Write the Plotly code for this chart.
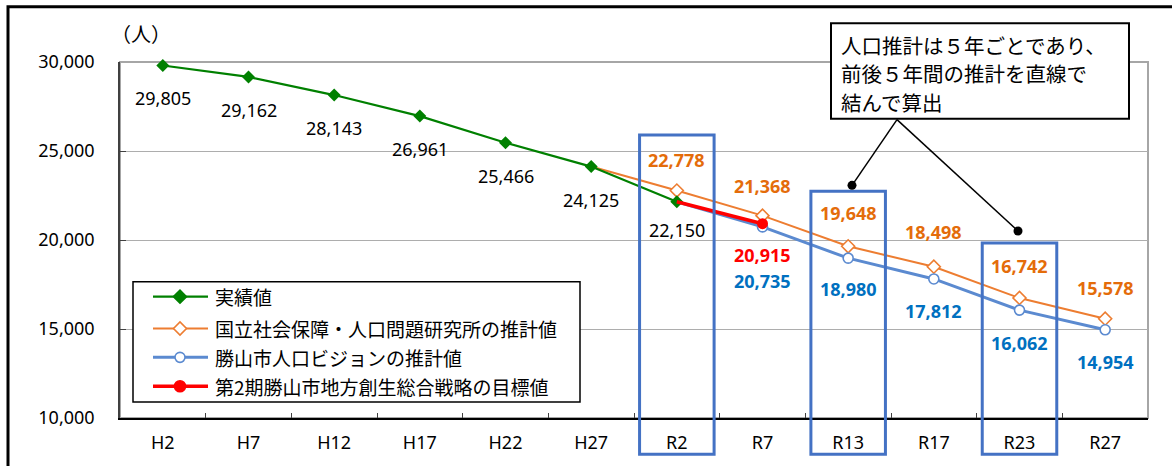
import plotly.graph_objects as go

# ---- data ----------------------------------------------------------------
categories = ["H2", "H7", "H12", "H17", "H22", "H27",
              "R2", "R7", "R13", "R17", "R23", "R27"]

actual_years = ["H2", "H7", "H12", "H17", "H22", "H27", "R2"]
actual_pop = [29805, 29162, 28143, 26961, 25466, 24125, 22150]

ipss_years = ["H27", "R2", "R7", "R13", "R17", "R23", "R27"]
ipss_pop = [24125, 22778, 21368, 19648, 18498, 16742, 15578]

vision_years = ["R2", "R7", "R13", "R17", "R23", "R27"]
vision_pop = [22150, 20735, 18980, 17812, 16062, 14954]

target_years = ["R2", "R7"]
target_pop = [22150, 20915]

highlight_years = ["R2", "R13", "R23"]

series_names = [
    "実績値",
    "国立社会保障・人口問題研究所の推計値",
    "勝山市人口ビジョンの推計値",
    "第2期勝山市地方創生総合戦略の目標値",
]

note_lines = [
    "人口推計は５年ごとであり、",
    "前後５年間の推計を直線で",
    "結んで算出",
]

# ---- styling -------------------------------------------------------------
W, H = 1172, 466
ML, MR, MT, MB = 120, 24, 62, 46
PW, PH = W - ML - MR, H - MT - MB

GREEN = "#008000"
ORANGE = "#ED7D31"
ORANGE_TXT = "#E46C0A"
BLUE = "#5B8AD0"
BLUE_TXT = "#0070C0"
RED = "#FF0000"
BOX_BLUE = "#4472C4"
GRID = "#ADADAD"

NUM_FONT = "Noto Sans, Noto Sans CJK JP, sans-serif"
JP_FONT = "Noto Sans CJK JP, Noto Sans, sans-serif"


def fx(px):
    """pixel column -> paper x"""
    return (px - ML) / PW


def fy(py):
    """pixel row -> paper y"""
    return (H - MB - py) / PH


fig = go.Figure()

# projection lines first, actual values on top, target on top of all
fig.add_trace(go.Scatter(
    x=ipss_years, y=ipss_pop, mode="lines+markers", name=series_names[1],
    line=dict(color=ORANGE, width=2),
    marker=dict(symbol="diamond", size=10, color="white",
                line=dict(color=ORANGE, width=1.6),
                opacity=[0] + [1] * (len(ipss_pop) - 1)),
    cliponaxis=False, showlegend=False, hoverinfo="skip"))

fig.add_trace(go.Scatter(
    x=vision_years, y=vision_pop, mode="lines+markers", name=series_names[2],
    line=dict(color=BLUE, width=3),
    marker=dict(symbol="circle", size=10, color="white",
                line=dict(color=BLUE, width=1.6),
                opacity=[0] + [1] * (len(vision_pop) - 1)),
    cliponaxis=False, showlegend=False, hoverinfo="skip"))

fig.add_trace(go.Scatter(
    x=actual_years, y=actual_pop, mode="lines+markers", name=series_names[0],
    line=dict(color=GREEN, width=2.2),
    marker=dict(symbol="diamond", size=10, color=GREEN, line=dict(width=0)),
    cliponaxis=False, showlegend=False, hoverinfo="skip"))

fig.add_trace(go.Scatter(
    x=target_years, y=target_pop, mode="lines+markers", name=series_names[3],
    line=dict(color=RED, width=3.5),
    marker=dict(symbol="circle", size=11, color=RED,
                opacity=[0] + [1] * (len(target_pop) - 1)),
    cliponaxis=False, showlegend=False, hoverinfo="skip"))

# ---- value labels ----------------------------------------------------------
annotations = []


def value_labels(xs, ys, color, bold, shifts):
    for x, y, s in zip(xs, ys, shifts):
        if s is None:
            continue
        annotations.append(dict(
            x=x, y=y, xref="x", yref="y", text=f"{y:,}", showarrow=False,
            xanchor="center", yanchor="middle", yshift=s,
            font=dict(family=NUM_FONT, size=18, color=color,
                      weight="bold" if bold else "normal")))


value_labels(actual_years, actual_pop, "#000000", False,
             [-33, -33, -33, -33, -33, -33, -28])
value_labels(ipss_years, ipss_pop, ORANGE_TXT, True,
             [None, 31, 30, 33, 35, 32, 31])
value_labels(vision_years, vision_pop, BLUE_TXT, True,
             [None, -54, -31, -32, -33, -32])
value_labels(target_years, target_pop, RED, True, [None, -31])

# unit label
annotations.append(dict(
    x=fx(141), y=fy(33), xref="paper", yref="paper", text="（人）",
    showarrow=False, xanchor="center", yanchor="middle",
    font=dict(family=JP_FONT, size=20, color="#000000")))

shapes = []

# outer frame (top and left edges visible)
shapes.append(dict(type="rect", xref="paper", yref="paper",
                   x0=fx(8), x1=fx(1200), y0=fy(500), y1=fy(6.5),
                   line=dict(color="#000000", width=3), layer="below"))

# plot-area frame (grey top / right)
shapes.append(dict(type="rect", xref="paper", yref="paper",
                   x0=0, x1=1, y0=0, y1=1,
                   line=dict(color="#A6A6A6", width=2), layer="below"))

# highlight boxes around selected years
box_tops = {"R2": 135.5, "R13": 192, "R23": 244}
for yr in highlight_years:
    i = categories.index(yr)
    shapes.append(dict(type="rect", xref="x", yref="paper",
                       x0=i - 0.435, x1=i + 0.435,
                       y0=fy(456.5), y1=fy(box_tops[yr]),
                       line=dict(color=BOX_BLUE, width=3), layer="above"))

# ---- legend ---------------------------------------------------------------
shapes.append(dict(type="rect", xref="paper", yref="paper",
                   x0=fx(133), x1=fx(580), y0=fy(404), y1=fy(283),
                   line=dict(color="#000000", width=1.5),
                   fillcolor="white", layer="above"))

legend_rows = [298, 330, 359, 388]
legend_style = [
    (GREEN, 2.2, "diamond", GREEN),
    (ORANGE, 2, "diamond", "white"),
    (BLUE, 3, "circle", "white"),
    (RED, 3.5, "circle", RED),
]
for name, row, (col, lw, sym, fill) in zip(series_names, legend_rows, legend_style):
    shapes.append(dict(type="line", xref="paper", yref="paper",
                       x0=fx(153), x1=fx(208), y0=fy(row), y1=fy(row),
                       line=dict(color=col, width=lw), layer="above"))
    if sym == "diamond":
        shapes.append(dict(type="path", xref="paper", yref="paper",
                           xsizemode="pixel", ysizemode="pixel",
                           xanchor=fx(180), yanchor=fy(row),
                           path="M-6.5,0L0,6.5L6.5,0L0,-6.5Z",
                           fillcolor=fill, line=dict(color=col, width=1.6),
                           layer="above"))
    else:
        r = 5.5 if fill == RED else 5
        shapes.append(dict(type="circle", xref="paper", yref="paper",
                           xsizemode="pixel", ysizemode="pixel",
                           xanchor=fx(180), yanchor=fy(row),
                           x0=-r, x1=r, y0=-r, y1=r,
                           fillcolor=fill, line=dict(color=col, width=1.6),
                           layer="above"))
    annotations.append(dict(
        x=fx(213), y=fy(row), xref="paper", yref="paper", text=name,
        showarrow=False, xanchor="left", yanchor="middle",
        font=dict(family=JP_FONT, size=19, color="#000000")))

# ---- note callout ---------------------------------------------------------
shapes.append(dict(type="rect", xref="paper", yref="paper",
                   x0=fx(831), x1=fx(1129), y0=fy(119), y1=fy(23),
                   line=dict(color="#000000", width=2),
                   fillcolor="white", layer="above"))
for (tx, ty) in [(852, 186), (1018, 232)]:
    shapes.append(dict(type="line", xref="paper", yref="paper",
                       x0=fx(897), y0=fy(120), x1=fx(tx), y1=fy(ty),
                       line=dict(color="#000000", width=1.5), layer="above"))
    shapes.append(dict(type="circle", xref="paper", yref="paper",
                       xsizemode="pixel", ysizemode="pixel",
                       xanchor=fx(tx), yanchor=fy(ty),
                       x0=-4.5, x1=4.5, y0=-4.5, y1=4.5,
                       fillcolor="#000000", line=dict(width=0), layer="above"))
for line_text, ty in zip(note_lines, [45, 73, 102]):
    annotations.append(dict(
        x=fx(839), y=fy(ty), xref="paper", yref="paper", text=line_text,
        showarrow=False, xanchor="left", yanchor="middle",
        font=dict(family=JP_FONT, size=20.5, color="#000000")))

fig.update_layout(
    width=W, height=H, autosize=False,
    margin=dict(l=ML, r=MR, t=MT, b=MB, pad=0),
    paper_bgcolor="white", plot_bgcolor="white",
    showlegend=False,
    shapes=shapes, annotations=annotations,
    xaxis=dict(type="category", categoryorder="array", categoryarray=categories,
               range=[-0.5, len(categories) - 0.5],
               showline=True, linecolor="#000000", linewidth=1.5,
               ticks="inside", tickson="boundaries", ticklen=5,
               tickcolor="#404040", tickwidth=1,
               showgrid=False, zeroline=False,
               tickfont=dict(family=NUM_FONT, size=18, color="#000000"),
               ticklabelstandoff=8),
    yaxis=dict(range=[10000, 30000], dtick=5000, tickformat=",d",
               showline=True, linecolor="#404040", linewidth=1.5,
               ticks="inside", ticklen=6, tickcolor="#404040",
               showgrid=True, gridcolor=GRID, gridwidth=1, zeroline=False,
               tickfont=dict(family=NUM_FONT, size=18, color="#000000"),
               ticklabelstandoff=20),
    hovermode=False,
)

fig.write_html("out.html")
